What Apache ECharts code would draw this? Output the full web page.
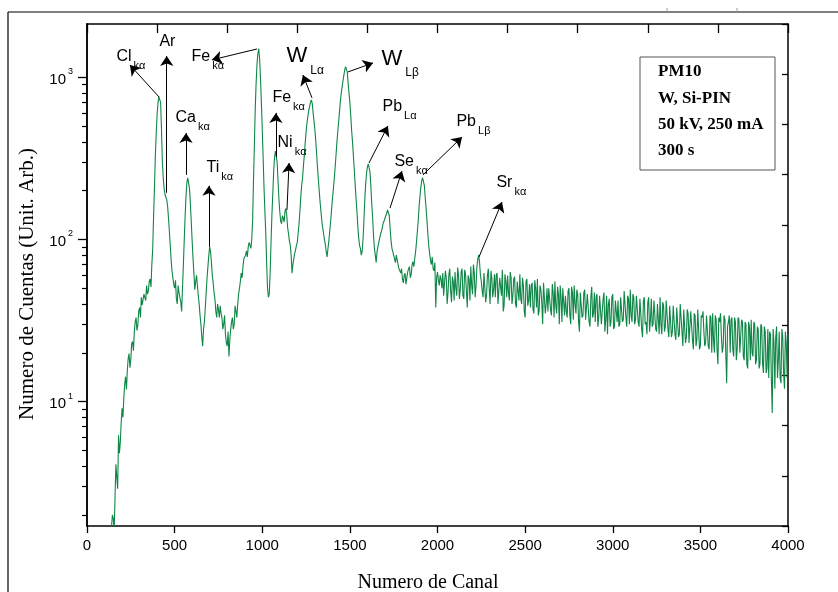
<!DOCTYPE html>
<html>
<head>
<meta charset="utf-8">
<script src="https://cdn.jsdelivr.net/npm/echarts@6/dist/echarts.min.js"></script>
<style>
  html, body { margin: 0; padding: 0; background: #fff; }
  #chart { width: 838px; height: 592px; }
</style>
</head>
<body>
<div id="chart"></div>
<script>
// espectro PM10: cuentas en los canales 130, 140, ... 4000
const canalInicio = 130
const pasoCanal = 10
const cuentas = [
  1.3, 1.7, 1.9, 2.6, 3.4, 6.2, 5.6, 9.1, 10.5, 14.2,      // 130-220
  15.5, 19.8, 18.2, 23.5, 27, 33, 29.5, 38, 44, 40,       // 230-320
  47, 52, 48, 57, 70, 140, 330, 590, 760, 700,            // 330-420
  300, 205, 182, 160, 112, 75, 58, 50, 43, 52,            // 430-520
  46, 36, 70, 140, 225, 238, 165, 98, 62, 55,             // 530-620
  52, 40, 30, 22, 31, 47, 68, 90, 72, 54,                 // 630-720
  43, 33, 37, 39, 33, 30, 26, 22, 19, 28,                 // 730-820
  33, 30, 36, 40, 50, 62, 68, 74, 85, 90,                 // 830-920
  95, 100, 230, 640, 1200, 1500, 980, 480, 210, 110,      // 930-1020
  50, 46, 95, 190, 320, 355, 230, 148, 125, 135,          // 1030-1120
  150, 140, 108, 92, 62, 76, 86, 96, 125, 185,            // 1130-1220
  240, 330, 460, 570, 660, 725, 610, 480, 340, 235,       // 1230-1320
  170, 130, 108, 93, 78, 98, 128, 175, 230, 320,          // 1330-1420
  450, 600, 790, 940, 1100, 1150, 920, 700, 470, 330,     // 1430-1520
  220, 150, 103, 88, 84, 130, 220, 280, 295, 210,         // 1530-1620
  135, 88, 72, 90, 102, 112, 126, 133, 145, 156,          // 1630-1720
  115, 88, 82, 72, 78, 66, 62, 57, 60, 53,                // 1730-1820
  63, 68, 61, 73, 76, 96, 130, 185, 230, 242,             // 1830-1920
  180, 130, 92, 74, 78, 64, 38, 63, 52, 57,               // 1930-2020
  62, 44, 58, 47, 66, 41, 55, 63, 45, 60,                 // 2030-2120
  49, 66, 43, 61, 38, 57, 68, 46, 62, 52,                 // 2130-2220
  76, 72, 55, 44, 63, 46, 66, 40, 58, 49,                 // 2230-2320
  44, 62, 41, 57, 65, 39, 55, 60, 42, 58,                 // 2330-2420
  45, 59, 38, 54, 61, 40, 52, 33, 57, 42,                 // 2430-2520
  38, 54, 35, 50, 57, 36, 49, 30, 53, 40,                 // 2530-2620
  36, 51, 34, 47, 55, 35, 46, 52, 31, 49,                 // 2630-2720
  45, 33, 50, 30, 47, 52, 35, 46, 27, 48,                 // 2730-2820
  34, 49, 32, 45, 29, 51, 35, 31, 46, 33,                 // 2830-2920
  44, 30, 47, 32, 26, 43, 31, 46, 29, 41,                 // 2930-3020
  42, 30, 45, 32, 47, 29, 43, 49, 31, 44,                 // 3030-3120
  32, 46, 29, 42, 25, 44, 31, 41, 27, 43,                 // 3130-3220
  30, 42, 27, 40, 44, 26, 39, 29, 41, 25,                 // 3230-3320
  38, 27, 40, 24, 37, 26, 39, 22, 36, 25,                 // 3330-3420
  35, 23, 37, 21, 34, 24, 36, 22, 33, 27,                 // 3430-3520
  23, 34, 21, 33, 35, 20, 32, 17, 31, 25,                 // 3530-3620
  22, 32, 13, 31, 20, 33, 19, 31, 21, 32,                 // 3630-3720
  20, 31, 18, 30, 16, 29, 32, 19, 30, 18,                 // 3730-3820
  28, 17, 29, 15, 27, 16, 14, 26, 8.5, 23,                // 3830-3920
  25, 14, 27, 13, 25, 12, 23, 26                          // 3930-4000
]

// cuentas en los canales intermedios 135, 145, ... 3995
const canalMedioInicio = 135
const cuentasMedias = [
  1.1, 2.0, 1.6, 4.1, 2.9, 4.8, 7.4, 8.0, 12.8, 11.9,     // 135-225
  18.5, 16.2, 22.8, 20.6, 31, 27.5, 36, 33, 39.5, 46,     // 235-325
  42, 46, 55, 51, 88, 210, 450, 690, 780, 480,            // 335-425
  240, 190, 176, 135, 92, 64, 53, 56, 40, 47,             // 435-525
  41, 50, 100, 185, 240, 205, 128, 76, 49, 60,            // 535-625
  45, 34, 25, 28, 38, 58, 80, 84, 60, 47,                 // 635-725
  36, 40, 33, 35, 28, 34, 23, 27, 24, 31,                 // 735-825
  28, 39, 33, 46, 55, 58, 76, 80, 78, 96,                 // 835-925
  88, 130, 380, 920, 1400, 1300, 700, 320, 150, 72,       // 935-1025
  44, 62, 140, 260, 350, 300, 178, 130, 140, 128,         // 1035-1125
  155, 118, 98, 80, 70, 82, 92, 110, 150, 215,            // 1135-1225
  285, 395, 520, 620, 700, 690, 540, 410, 280, 200,       // 1235-1325
  148, 118, 100, 84, 88, 112, 150, 200, 270, 385,         // 1335-1425
  520, 700, 860, 1020, 1160, 1080, 800, 580, 400, 270,    // 1435-1525
  180, 122, 92, 80, 100, 175, 255, 292, 260, 165,         // 1535-1625
  105, 80, 84, 96, 108, 118, 130, 140, 152, 140,          // 1635-1725
  98, 84, 76, 80, 70, 64, 66, 54, 62, 58,                 // 1735-1825
  66, 58, 70, 68, 84, 112, 160, 210, 240, 215,            // 1835-1925
  155, 108, 82, 70, 66, 72, 58, 56, 60, 50,               // 1935-2025
  45, 64, 40, 61, 48, 59, 42, 50, 67, 43,                 // 2035-2125
  63, 45, 65, 48, 60, 42, 52, 70, 44, 68,                 // 2135-2225
  80, 60, 48, 62, 41, 60, 50, 64, 44, 61,                 // 2235-2325
  60, 40, 58, 45, 36, 61, 44, 47, 63, 40,                 // 2335-2425
  57, 40, 55, 42, 43, 58, 36, 55, 39, 53,                 // 2435-2525
  52, 37, 56, 38, 34, 52, 41, 54, 35, 50,                 // 2535-2625
  50, 37, 53, 33, 39, 51, 30, 44, 50, 34,                 // 2635-2725
  36, 48, 34, 51, 32, 40, 49, 31, 47, 33,                 // 2735-2825
  47, 32, 46, 31, 44, 33, 47, 44, 29, 45,                 // 2835-2925
  30, 43, 27, 45, 40, 29, 44, 28, 42, 31,                 // 2935-3025
  29, 44, 31, 48, 33, 45, 30, 34, 46, 30,                 // 3035-3125
  45, 31, 43, 28, 42, 30, 26, 44, 32, 29,                 // 3135-3225
  42, 28, 40, 26, 30, 41, 27, 42, 28, 39,                 // 3235-3325
  25, 39, 26, 38, 25, 40, 27, 37, 23, 37,                 // 3335-3425
  23, 36, 24, 35, 22, 37, 21, 34, 36, 22,                 // 3435-3525
  34, 22, 34, 20, 24, 34, 21, 33, 35, 20,                 // 3535-3625
  34, 20, 29, 34, 32, 21, 33, 18, 33, 20,                 // 3635-3725
  32, 19, 31, 17, 31, 18, 20, 31, 17, 29,                 // 3735-3825
  16, 30, 17, 29, 15, 28, 27, 14, 28, 12,                 // 3835-3925
  29, 18, 14, 28, 15, 27, 14                              // 3935-3995
]

const ticksMayores = [10, 100, 1000]
const ticksMenores = [2, 3, 4, 5, 6, 7, 8, 9, 20, 30, 40, 50, 60, 70, 80, 90,
  200, 300, 400, 500, 600, 700, 800, 900]

// etiquetas de los picos: texto (esquina sup. izq.), flecha desde -> hasta, en coordenadas de datos
const anotaciones = [
  { el: 'Cl', sub: 'kα', texto: [171, 1490], desde: [411, 756], hasta: [245, 1190] },
  { el: 'Ar', sub: '', texto: [416, 1850], desde: [455, 194], hasta: [455, 1350] },
  { el: 'Fe', sub: 'kα', texto: [599, 1490], desde: [970, 1494], hasta: [713, 1280] },
  { el: 'Ca', sub: 'kα', texto: [508, 629], desde: [565, 250], hasta: [565, 453] },
  { el: 'Ti', sub: 'kα', texto: [685, 309], desde: [696, 90], hasta: [696, 214] },
  { el: 'Fe', sub: 'kα', texto: [1061, 835], desde: [1078, 323], hasta: [1078, 603] },
  { el: 'Ni', sub: 'kα', texto: [1090, 441], desde: [1141, 152], hasta: [1153, 296] },
  { el: 'W', sub: 'Lα', grande: true, texto: [1141, 1560], desde: [1284, 746], hasta: [1232, 1033] },
  { el: 'W', sub: 'Lβ', grande: true, texto: [1683, 1516], desde: [1489, 1078], hasta: [1632, 1225] },
  { el: 'Pb', sub: 'Lα', texto: [1689, 735], desde: [1609, 296], hasta: [1717, 501] },
  { el: 'Se', sub: 'kα', texto: [1757, 337], desde: [1729, 156], hasta: [1797, 264] },
  { el: 'Pb', sub: 'Lβ', texto: [2111, 594], desde: [1917, 250], hasta: [2140, 428] },
  { el: 'Sr', sub: 'kα', texto: [2339, 250], desde: [2237, 78], hasta: [2368, 170] }
]

const leyenda = ['PM10', 'W, Si-PIN', '50 kV, 250 mA', '300 s']

// intercalar canales principales e intermedios
const datos = []
cuentas.forEach((v, i) => {
  datos.push([canalInicio + i * pasoCanal, v])
  if (i < cuentasMedias.length) datos.push([canalMedioInicio + i * pasoCanal, cuentasMedias[i]])
})

const sans = 'Liberation Sans'
const serif = 'Liberation Serif'
const yMin = 1.71
const yMax = 2130

const chart = echarts.init(document.getElementById('chart'))

const option = {
  animation: false,
  backgroundColor: '#fff',
  grid: {
    left: 87,
    right: 50,
    top: 24,
    bottom: 66,
    outerBoundsMode: 'none'
  },
  xAxis: [
    {
      type: 'value',
      position: 'bottom',
      min: 0,
      max: 4000,
      interval: 500,
      name: 'Numero de Canal',
      nameLocation: 'middle',
      nameGap: 47,
      nameTextStyle: { fontFamily: serif, fontSize: 20, color: '#000', padding: [0, 19, 0, 0] },
      axisLine: { show: true, lineStyle: { color: '#000', width: 1.5 } },
      axisTick: { show: true, inside: false, length: 7, lineStyle: { color: '#000', width: 1.3 } },
      axisLabel: {
        fontFamily: sans, fontSize: 15, color: '#000', margin: 12,
        formatter: v => String(v)
      },
      splitLine: { show: false }
    },
    {
      type: 'value',
      position: 'top',
      min: 0,
      max: 10,
      interval: 1,
      axisLine: { show: true, lineStyle: { color: '#000', width: 1.5 } },
      axisTick: { show: true, inside: true, length: 9, lineStyle: { color: '#000', width: 1.3 } },
      axisLabel: { show: false },
      splitLine: { show: false }
    }
  ],
  yAxis: [
    {
      type: 'log',
      logBase: 10,
      position: 'left',
      min: yMin,
      max: yMax,
      name: 'Numero de Cuentas (Unit. Arb.)',
      nameLocation: 'middle',
      nameGap: 44,
      nameTextStyle: { fontFamily: serif, fontSize: 21, color: '#000', padding: [0, 18, 0, 0] },
      axisLine: { show: true, lineStyle: { color: '#000', width: 1.5 } },
      axisTick: { show: true, inside: false, length: 9, customValues: ticksMayores, lineStyle: { color: '#000', width: 1.3 } },
      axisLabel: {
        customValues: ticksMayores,
        margin: 14,
        formatter: function (v) {
          return '{b|10}{e|' + Math.round(Math.log10(v)) + '}'
        },
        rich: {
          b: { fontFamily: sans, fontSize: 15, color: '#000', lineHeight: 20, verticalAlign: 'bottom' },
          e: { fontFamily: sans, fontSize: 9, color: '#000', lineHeight: 10, verticalAlign: 'top', padding: [0, 0, 0, 2] }
        }
      },
      splitLine: { show: false }
    },
    {
      type: 'log',
      logBase: 10,
      position: 'left',
      min: yMin,
      max: yMax,
      axisLine: { show: true, lineStyle: { color: '#000', width: 1.5 } },
      axisTick: { show: true, inside: false, length: 5, customValues: ticksMenores, lineStyle: { color: '#000', width: 1.2 } },
      axisLabel: { show: false },
      splitLine: { show: false }
    },
    {
      type: 'value',
      position: 'right',
      min: 0,
      max: 10,
      interval: 1,
      axisLine: { show: true, lineStyle: { color: '#000', width: 1.5 } },
      axisTick: { show: true, inside: true, length: 6, lineStyle: { color: '#000', width: 1.3 } },
      axisLabel: { show: false },
      splitLine: { show: false }
    }
  ],
  series: [
    {
      type: 'line',
      xAxisIndex: 0,
      yAxisIndex: 0,
      data: datos,
      showSymbol: false,
      symbol: 'none',
      sampling: null,
      clip: true,
      lineStyle: { color: '#00803c', width: 1.1, opacity: 0.95 },
      emphasis: { disabled: true },
      markLine: {
        silent: true,
        symbol: ['none', 'arrow'],
        symbolSize: 10,
        label: { show: false },
        emphasis: { disabled: true },
        lineStyle: { color: '#000', width: 1, type: 'solid' },
        data: anotaciones.map(a => [{ coord: a.desde }, { coord: a.hasta }])
      },
      markPoint: {
        silent: true,
        symbol: 'circle',
        symbolSize: 1,
        itemStyle: { color: 'rgba(0,0,0,0)' },
        label: {
          show: true,
          position: [0, 0],
          align: 'left',
          verticalAlign: 'top',
          color: '#000',
          rich: {
            m: { fontFamily: sans, fontSize: 16, lineHeight: 18, color: '#000', verticalAlign: 'top' },
            s: { fontFamily: sans, fontSize: 11, lineHeight: 11, color: '#000', verticalAlign: 'top', padding: [12, 0, 0, 2] },
            M: { fontFamily: sans, fontSize: 22, lineHeight: 24, color: '#000', verticalAlign: 'top' },
            S: { fontFamily: sans, fontSize: 12, lineHeight: 12, color: '#000', verticalAlign: 'top', padding: [19, 0, 0, 3] }
          }
        },
        data: anotaciones.map(a => ({
          coord: a.texto,
          label: {
            formatter: a.grande
              ? '{M|' + a.el + '}{S|' + a.sub + '}'
              : (a.sub ? '{m|' + a.el + '}{s|' + a.sub + '}' : '{m|' + a.el + '}')
          }
        }))
      }
    }
  ],
  graphic: [
    // marco exterior de la figura
    { type: 'line', silent: true, shape: { x1: 8, y1: 12, x2: 838, y2: 12 }, style: { stroke: '#000', lineWidth: 1.2 } },
    { type: 'line', silent: true, shape: { x1: 8, y1: 12, x2: 8, y2: 592 }, style: { stroke: '#000', lineWidth: 1.2 } },
    { type: 'line', silent: true, shape: { x1: 667, y1: 8, x2: 667, y2: 12 }, style: { stroke: '#999', lineWidth: 1 } },
    { type: 'line', silent: true, shape: { x1: 737, y1: 8, x2: 737, y2: 12 }, style: { stroke: '#999', lineWidth: 1 } },
    // cuadro de condiciones
    {
      type: 'rect', silent: true, z: 10,
      shape: { x: 640, y: 57, width: 135, height: 113 },
      style: { fill: '#fff', stroke: '#555', lineWidth: 1 }
    }
  ].concat(leyenda.map((t, i) => ({
    type: 'text', silent: true, z: 11,
    x: 658, y: 72 + i * 26.3,
    style: { text: t, font: 'bold 17px "Liberation Serif"', fill: '#000', verticalAlign: 'middle', align: 'left' }
  })))
}

chart.setOption(option)
</script>
</body>
</html>
